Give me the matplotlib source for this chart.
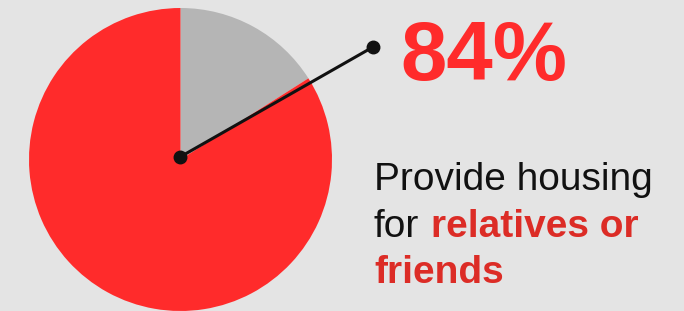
import matplotlib
matplotlib.use("Agg")
import matplotlib.pyplot as plt

# Data
labels = ["Other", "Provide housing for relatives or friends"]
shares = [16, 84]
highlight_value = "84%"
line1 = "Provide housing"
line2_plain = "for "
line2_bold = "relatives or"
line3_bold = "friends"

BG = "#e4e4e4"
RED = "#ff2b2b"
GRAY = "#b5b5b5"
TXT_RED = "#dc2c26"

W, H = 684, 311
fig = plt.figure(figsize=(W / 100, H / 100), dpi=100, facecolor=BG)
ax = fig.add_axes([0, 0, 1, 1])
ax.set_facecolor(BG)

cx, cy, r = 180.5, H - 159.5, 151.5
ax.pie(shares, colors=[GRAY, RED], startangle=90, counterclock=False,
       center=(cx, cy), radius=r, wedgeprops=dict(linewidth=0))
ax.set_xlim(0, W)
ax.set_ylim(0, H)
ax.set_aspect("equal")
ax.axis("off")

# leader line
sx, sy = 180, H - 157
ex, ey = 373, H - 47
ax.plot([sx, ex], [sy, ey], color="#111111", lw=2.2, solid_capstyle="round", zorder=5)
ax.plot([sx, ex], [sy, ey], "o", color="#111111", ms=9, zorder=6)

font = "Liberation Sans"
ax.text(400, H - 80, highlight_value, color=RED, fontsize=60, fontweight="bold",
        family=font, va="baseline", ha="left")
ax.text(374, H - 190, line1, color="#111111", fontsize=28, family=font, va="baseline")
ax.text(374, H - 237, line2_plain.strip(), color="#111111", fontsize=28, family=font, va="baseline")
ax.text(431, H - 237, line2_bold, color=TXT_RED, fontsize=28, fontweight="bold", family=font, va="baseline")
ax.text(374, H - 283, line3_bold, color=TXT_RED, fontsize=28, fontweight="bold", family=font, va="baseline")

fig.savefig("out.png", dpi=100, facecolor=BG)
